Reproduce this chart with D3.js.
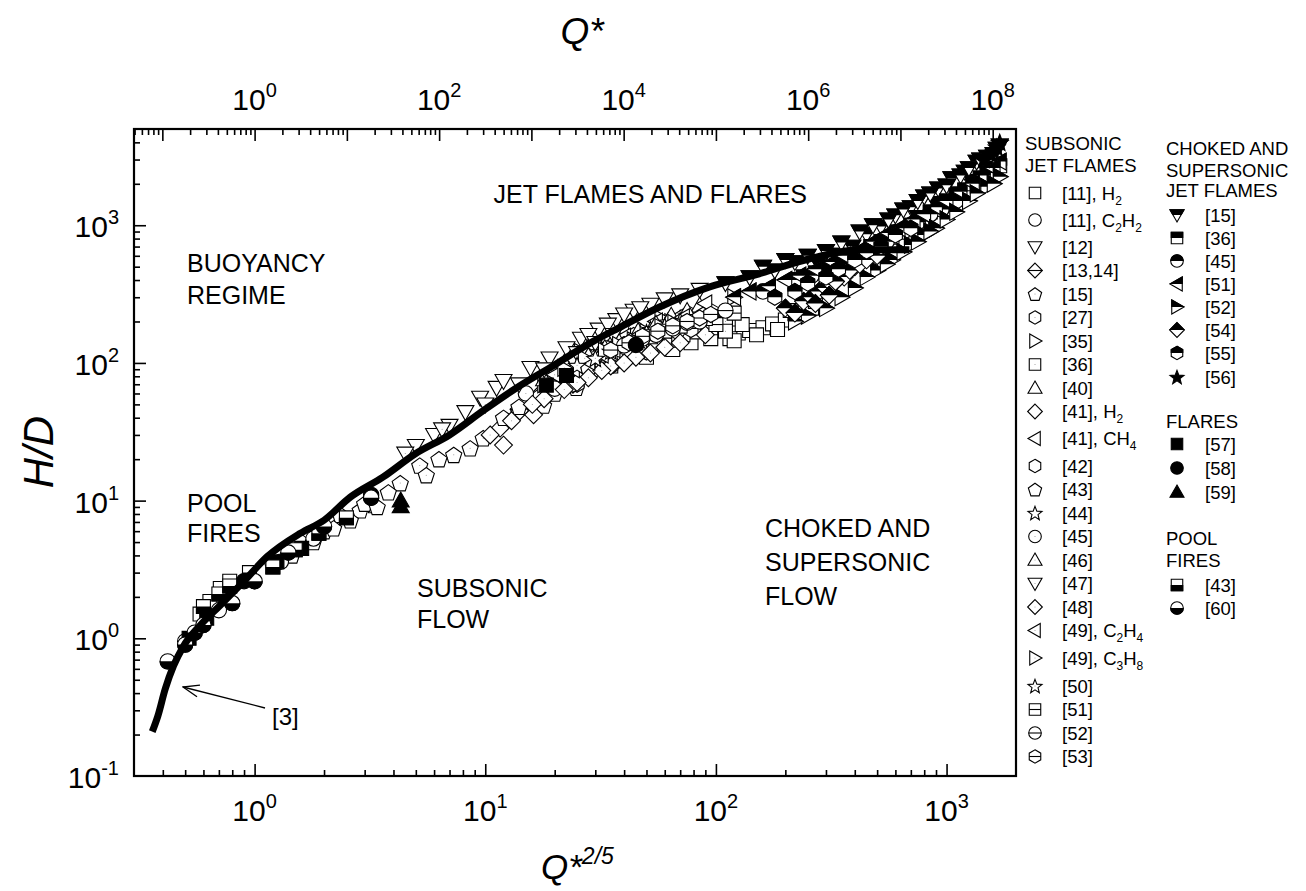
<!DOCTYPE html>
<html>
<head>
<meta charset="utf-8">
<script src="https://d3js.org/d3.v7.min.js"></script>
<style>
body { margin: 0; background: #fff; }
text { font-family: "Liberation Sans", Arial, Helvetica, sans-serif; fill: #000; }
</style>
</head>
<body>
<div id="container"></div>
<script>
// correlation curve [3]
var curveX = [0.36, 0.38, 0.41, 0.445, 0.49, 0.58, 0.71, 0.9, 1.13, 1.58, 2.0, 2.6, 3.6, 5.0, 7.0, 9.8, 13.7, 19, 29.5, 38, 57, 94, 154, 255, 420, 690];
var curveY = [0.21, 0.27, 0.43, 0.63, 0.87, 1.24, 1.74, 2.6, 3.9, 5.8, 7.2, 10.6, 14.8, 22, 30, 45, 66, 92, 144, 180, 255, 357, 444, 571, 664, 664];

// subsonic jet flames  [Q*^(2/5), H/D]
var s11H2 = [[45,120],[58,135],[70,150],[88,172],[104,172],[125,165],[140,172],[160,180],[176,192],[200,205],[220,228],[244,266],[290,298],[32,100],[95,150],[35,95],[50,110],[65,125],[78,140],[115,150],[130,190],[150,160],[185,175],[210,240],[260,250],[270,280],[120,145]];
var s11C2H2 = [[61,142],[83,192],[38,130],[50,160],[110,230],[28,110],[30,120],[45,175],[70,200]];
var s12 = [[5.0,25],[6.0,30],[7.0,35],[8.2,44],[9.5,56],[11.2,66],[12.0,74],[15.7,92],[19,108],[22.5,128],[26,150],[31,175],[37,205],[44,240],[52,265],[28,160],[34,190],[40,225],[47,250],[60,290],[70,310],[85,340]];
var s13 = [[14,46],[17,58],[21,72],[26,88],[31,102],[38,125],[46,150],[56,168],[24,100],[34,140],[42,110],[62,190]];
var s15 = [[2.35,7.9],[2.87,8.5],[3.28,9.3],[4.28,13.4],[5.2,18],[5.55,15.3],[7.3,21.5],[8.6,24],[9.8,28.4],[17.3,58],[17.9,49],[24.8,66]];
var s27 = [[20,78],[27,100],[34,128],[44,158],[58,190],[73,215],[90,205],[25,70],[38,105],[50,120],[65,160],[82,180],[110,200]];
var s35 = [[22,86],[29,110],[39,140],[50,168],[64,198],[80,228],[18,70],[26,120],[34,100],[45,130],[58,210],[95,250],[120,300]];
var s36 = [[0.58,1.5],[0.64,1.85],[0.71,2.3],[0.78,2.6],[24,82],[31,104],[40,122],[52,134],[65,146],[80,168],[28,90],[36,115],[46,128],[58,155],[72,160],[95,180],[110,170]];
var s40 = [[18,76],[24,96],[32,118],[42,150],[55,182],[70,210],[21,88],[28,130],[37,160],[48,130],[62,200],[85,260]];
var s41H2 = [[11.6,33.6],[12,25.3],[14.1,44.8],[16.2,42],[21.8,73.6],[26.7,81],[32,94],[40,108],[19,60],[24,70],[29,85],[36,98],[45,115]];
var s41CH4 = [[25,86],[35,114],[47,140],[60,168],[76,190],[22,100],[30,130],[40,155],[55,200],[68,215],[90,270]];
var s42 = [[30,112],[40,136],[51,160],[68,180],[88,222],[24,70],[35,95],[46,120],[60,140],[78,175]];
var s43 = [[1.2,3.4],[1.45,4.0],[1.6,5.0],[1.8,5.0],[2.0,6.0],[2.2,6.3],[2.6,7.2],[3.0,9.5],[3.4,9.0],[3.8,11.5],[6.3,20],[12,40],[14,48],[20,60]];
var s44 = [[20,86],[30,116],[45,152],[62,198],[24,105],[38,135],[52,175],[75,220]];
var s45 = [[0.5,0.95],[0.7,1.6],[1.3,3.6],[1.8,5.3],[15,60],[42,122],[20,65],[28,90],[55,140],[68,170]];
var s46 = [[28,112],[38,142],[55,192],[75,238],[22,100],[33,128],[46,170],[64,220]];
var s47 = [[4.5,22],[6.5,33],[10,50],[14,70],[18,90],[25,118],[30,140],[36,160]];
var s48 = [[10.5,30],[13,38],[18,55],[22,64],[28,78],[35,95],[45,110],[60,130],[16,50],[25,72],[32,88],[40,100],[52,118],[70,140],[90,160]];
var s49C2H4 = [[20,82],[28,102],[36,126],[48,160],[24,90],[32,115],[42,145],[56,170],[72,215]];
var s49C3H8 = [[22,92],[33,122],[44,146],[58,182],[27,108],[38,135],[50,160],[66,195]];
var s50 = [[25,96],[35,122],[50,166],[70,202],[30,108],[42,142],[60,185]];
var s51 = [[45,140],[60,170],[80,200],[100,190],[52,155],[70,185],[90,210],[120,230]];
var s52 = [[40,134],[55,160],[75,196],[48,150],[65,178],[85,200],[110,240]];
var s53 = [[35,124],[48,156],[65,186],[85,212],[42,140],[56,170],[75,200],[95,225]];

// choked and supersonic jet flames
var c15 = [[110,380],[140,420],[180,470],[220,540],[280,520],[330,610],[390,700],[450,860],[520,980],[600,1180],[700,1350],[800,1620],[920,1850],[1050,2200],[1200,2450],[1350,2900],[1500,3150],[1650,3600],[600,900],[750,1150],[900,1450],[1100,1700],[1300,2100],[1550,2600],[250,600],[300,650],[350,750],[420,900],[480,1000],[560,1100],[650,1300],[750,1500],[850,1700],[1000,1950],[1150,2300],[1250,2600],[1400,3000],[1600,3300],[1700,3800],[160,500],[200,560]];
var c36 = [[240,420],[300,480],[380,560],[470,700],[580,820],[700,1000],[850,1250],[1000,1500],[1200,1800],[1400,2200],[1600,2500],[270,450],[340,520],[420,620],[520,760],[640,900],[780,1100],[920,1350],[1100,1650],[1300,2000],[1500,2400],[1700,2700]];
var c45 = [[160,330],[220,400],[300,450],[400,600],[550,760],[750,1050],[950,1300],[260,430],[350,520],[460,680],[650,900],[850,1200],[1100,1500]];
var c51 = [[120,300],[170,360],[230,430],[320,540],[420,660],[560,880],[720,1100],[900,1350],[1150,1750],[1450,2300],[1700,2900],[140,330],[200,400],[270,480],[360,600],[480,760],[620,950],[800,1200],[1000,1500],[1300,2000],[1600,2600]];
var c52 = [[300,250],[350,300],[400,350],[500,470],[580,560],[650,640],[800,850],[900,950],[1000,1100],[1250,1500],[1500,1900],[1700,2250],[450,420],[550,520],[700,720],[750,760],[850,900],[1100,1250],[1350,1700],[1600,2000],[250,220],[220,200]];
var c54 = [[200,250],[240,280],[260,300],[280,330],[300,350],[320,370],[340,450],[360,420],[400,500],[220,230],[270,270],[310,310],[330,390],[380,470],[420,520],[450,560],[500,600]];
var c55 = [[180,300],[250,380],[340,480],[450,650],[600,850],[220,330],[300,420],[400,560],[520,700],[700,950]];
var c56 = [[1450,3000],[1550,3300],[1600,3450],[1650,3700],[1700,4000]];

// flares
var f57 = [[0.52,1.0],[0.62,1.4],[0.75,2.0],[1.25,3.6],[1.6,4.5],[18.4,69],[22.5,81]];
var f58 = [[0.9,2.6],[3.2,11],[45,135]];
var f59 = [[4.3,9.1],[4.3,10]];

// pool fires
var p43 = [[0.6,1.7],[0.7,2.1],[0.78,2.4],[0.95,3.0],[1.2,3.3],[1.5,4.4],[1.9,5.8],[2.5,7.5]];
var p60 = [[0.42,0.68],[0.5,0.9],[0.55,1.1],[0.6,1.25],[0.8,1.8],[1.0,2.6],[1.4,4.2],[2.0,6.5],[3.2,10.5]];

// axis label decades
var xLabelExp = [0, 1, 2, 3];
var yLabelExp = [-1, 0, 1, 2, 3];
var qLabelExp = [0, 2, 4, 6, 8];

var subsonicKeys = [
  {label:["[11], H","2"], data:s11H2, shape:"square", mode:"open"},
  {label:["[11], C","2","H","2"], data:s11C2H2, shape:"circle", mode:"open"},
  {label:["[12]"], data:s12, shape:"down", mode:"open"},
  {label:["[13,14]"], data:s13, shape:"diamond", mode:"line"},
  {label:["[15]"], data:s15, shape:"pentagon", mode:"dot"},
  {label:["[27]"], data:s27, shape:"hexagon", mode:"dot"},
  {label:["[35]"], data:s35, shape:"right", mode:"open"},
  {label:["[36]"], data:s36, shape:"square", mode:"dot"},
  {label:["[40]"], data:s40, shape:"up", mode:"open"},
  {label:["[41], H","2"], data:s41H2, shape:"diamond", mode:"open"},
  {label:["[41], CH","4"], data:s41CH4, shape:"left", mode:"open"},
  {label:["[42]"], data:s42, shape:"hexagon", mode:"open"},
  {label:["[43]"], data:s43, shape:"pentagon", mode:"open"},
  {label:["[44]"], data:s44, shape:"star", mode:"open"},
  {label:["[45]"], data:s45, shape:"circle", mode:"dot"},
  {label:["[46]"], data:s46, shape:"up", mode:"dot"},
  {label:["[47]"], data:s47, shape:"down", mode:"dot"},
  {label:["[48]"], data:s48, shape:"diamond", mode:"dot"},
  {label:["[49], C","2","H","4"], data:s49C2H4, shape:"left", mode:"dot"},
  {label:["[49], C","3","H","8"], data:s49C3H8, shape:"right", mode:"dot"},
  {label:["[50]"], data:s50, shape:"star", mode:"dot"},
  {label:["[51]"], data:s51, shape:"square", mode:"line"},
  {label:["[52]"], data:s52, shape:"circle", mode:"line"},
  {label:["[53]"], data:s53, shape:"hexagon", mode:"line"}
];
var chokedKeys = [
  {label:["[15]"], data:c15, shape:"down", mode:"top"},
  {label:["[36]"], data:c36, shape:"square", mode:"top"},
  {label:["[45]"], data:c45, shape:"circle", mode:"top"},
  {label:["[51]"], data:c51, shape:"left", mode:"top"},
  {label:["[52]"], data:c52, shape:"right", mode:"top"},
  {label:["[54]"], data:c54, shape:"diamond", mode:"top"},
  {label:["[55]"], data:c55, shape:"hexagon", mode:"top"},
  {label:["[56]"], data:c56, shape:"star", mode:"full"}
];
var flareKeys = [
  {label:["[57]"], data:f57, shape:"square", mode:"full"},
  {label:["[58]"], data:f58, shape:"circle", mode:"full"},
  {label:["[59]"], data:f59, shape:"up", mode:"full"}
];
var poolKeys = [
  {label:["[43]"], data:p43, shape:"square", mode:"bottom"},
  {label:["[60]"], data:p60, shape:"circle", mode:"bottom"}
];

var box = { left: 134, top: 129, right: 1016, bottom: 776 };

var svg = d3.select("#container").append("svg")
  .attr("width", 1306)
  .attr("height", 891);

var defs = svg.append("defs");
defs.append("clipPath").attr("id", "clip-top")
  .append("rect").attr("x", -30).attr("y", -30).attr("width", 60).attr("height", 30);
defs.append("clipPath").attr("id", "clip-bottom")
  .append("rect").attr("x", -30).attr("y", 0).attr("width", 60).attr("height", 30);
defs.append("clipPath").attr("id", "clip-plot")
  .append("rect").attr("x", box.left).attr("y", box.top)
  .attr("width", box.right - box.left).attr("height", box.bottom - box.top);
defs.append("marker").attr("id", "arrow")
  .attr("markerUnits", "userSpaceOnUse")
  .attr("markerWidth", 18).attr("markerHeight", 14)
  .attr("viewBox", "0 0 18 14").attr("refX", 1).attr("refY", 7)
  .attr("orient", "auto")
  .append("path").attr("d", "M17,1 L1,7 L17,13")
  .attr("fill", "none").attr("stroke", "#000").attr("stroke-width", 1.3);

// scales
var x = d3.scaleLog().domain([0.3, 2000]).range([box.left, box.right]);
var y = d3.scaleLog().domain([0.1, 5000]).range([box.bottom, box.top]);
// top axis: Q* = (Q*^(2/5))^(5/2)
var xq = d3.scaleLog().domain([Math.pow(0.3, 2.5), Math.pow(2000, 2.5)]).range([box.left, box.right]);

function ticksFor(scale, lo, hi) {
  var major = [], minor = [];
  var d = scale.domain();
  for (var k = lo; k <= hi; k++) {
    for (var m = 1; m <= 9; m++) {
      var v = m * Math.pow(10, k);
      if (v <= d[0] * 1.0001 || v >= d[1] * 0.9999) continue;
      if (m === 1) major.push(v); else minor.push(v);
    }
  }
  return { major: major, minor: minor };
}

function drawAxis(axisFn, scale, t, transform) {
  [[t.minor, 6], [t.major, 12]].forEach(function (p) {
    var g = svg.append("g")
      .attr("transform", transform)
      .call(axisFn(scale).tickValues(p[0]).tickSize(-p[1]).tickSizeOuter(0).tickFormat(""));
    g.select(".domain").remove();
    g.selectAll(".tick line").attr("stroke", "#000").attr("stroke-width", 1.6);
  });
}

drawAxis(d3.axisBottom, x, ticksFor(x, -1, 3), "translate(0," + box.bottom + ")");
drawAxis(d3.axisLeft, y, ticksFor(y, -1, 3), "translate(" + box.left + ",0)");
drawAxis(d3.axisTop, xq, ticksFor(xq, -2, 8), "translate(0," + box.top + ")");

// tick labels
function powText(sel, k) {
  sel.text("10");
  sel.append("tspan").attr("dy", -13).style("font-size", "20px").text(k);
}
xLabelExp.forEach(function (k) {
  svg.append("text").attr("x", x(Math.pow(10, k))).attr("y", 821)
    .attr("text-anchor", "middle").style("font-size", "30px")
    .call(powText, k);
});
yLabelExp.forEach(function (k) {
  svg.append("text").attr("x", 119).attr("y", y(Math.pow(10, k)) + 12)
    .attr("text-anchor", "end").style("font-size", "30px")
    .call(powText, k);
});
qLabelExp.forEach(function (k) {
  svg.append("text").attr("x", xq(Math.pow(10, k))).attr("y", 110)
    .attr("text-anchor", "middle").style("font-size", "30px")
    .call(powText, k);
});

// axis titles
svg.append("text").attr("x", 582).attr("y", 44).attr("text-anchor", "middle")
  .style("font-size", "37px").style("font-style", "italic").text("Q*");
var bt = svg.append("text").attr("x", 541).attr("y", 879)
  .style("font-size", "35px").style("font-style", "italic").text("Q*");
bt.append("tspan").attr("dy", -15).style("font-size", "23px").text("2/5");
svg.append("text").attr("transform", "translate(53,452) rotate(-90)")
  .attr("text-anchor", "middle").style("font-size", "42px").style("font-style", "italic")
  .text("H/D");

// symbols
function symbolPath(shape, r) {
  var pts, i, a;
  switch (shape) {
    case "square":
      a = r * 0.82;
      return "M" + (-a) + "," + (-a) + "H" + a + "V" + a + "H" + (-a) + "Z";
    case "circle":
      a = r * 0.9;
      return "M" + a + ",0A" + a + "," + a + " 0 1,1 " + (-a) + ",0A" + a + "," + a + " 0 1,1 " + a + ",0Z";
    case "up": pts = [[0, -r], [r, 0.75 * r], [-r, 0.75 * r]]; break;
    case "down": pts = [[0, r], [r, -0.75 * r], [-r, -0.75 * r]]; break;
    case "left": pts = [[-r, 0], [0.75 * r, -r], [0.75 * r, r]]; break;
    case "right": pts = [[r, 0], [-0.75 * r, -r], [-0.75 * r, r]]; break;
    case "diamond": pts = [[0, -r * 1.05], [r * 1.05, 0], [0, r * 1.05], [-r * 1.05, 0]]; break;
    case "pentagon":
      pts = [];
      for (i = 0; i < 5; i++) {
        a = (-90 + 72 * i) * Math.PI / 180;
        pts.push([r * Math.cos(a), r * Math.sin(a) + r * 0.1]);
      }
      break;
    case "hexagon":
      pts = [];
      for (i = 0; i < 6; i++) {
        a = (-90 + 60 * i) * Math.PI / 180;
        pts.push([r * 0.95 * Math.cos(a), r * 0.95 * Math.sin(a)]);
      }
      break;
    case "star":
      pts = [];
      for (i = 0; i < 10; i++) {
        a = (-90 + 36 * i) * Math.PI / 180;
        var rr = i % 2 ? r * 0.45 : r * 1.05;
        pts.push([rr * Math.cos(a), rr * Math.sin(a) + r * 0.1]);
      }
      break;
  }
  return "M" + pts.map(function (p) { return p[0].toFixed(2) + "," + p[1].toFixed(2); }).join("L") + "Z";
}
var halfWidth = { square: 0.82, circle: 0.9, diamond: 1.05, hexagon: 0.82 };

function drawMark(g, shape, mode, r) {
  var d = symbolPath(shape, r);
  g.append("path").attr("d", d)
    .attr("fill", mode === "full" ? "#000" : "#fff")
    .attr("stroke", "#000").attr("stroke-width", 1.1);
  if (mode === "top" || mode === "bottom") {
    g.append("path").attr("d", d).attr("fill", "#000")
      .attr("stroke", "#000").attr("stroke-width", 1.1)
      .attr("clip-path", "url(#clip-" + mode + ")");
  }
  if (mode === "line") {
    var w = halfWidth[shape] * r;
    g.append("line").attr("x1", -w).attr("x2", w).attr("y1", 0).attr("y2", 0)
      .attr("stroke", "#000").attr("stroke-width", 1.1);
  }
  if (mode === "dot") {
    g.append("circle").attr("r", 0.5).attr("fill", "#888");
  }
}

var plot = svg.append("g").attr("clip-path", "url(#clip-plot)");
var groups = [subsonicKeys, chokedKeys, flareKeys, poolKeys];
groups.forEach(function (keys) {
  keys.forEach(function (k) {
    plot.append("g").selectAll("g")
      .data(k.data)
      .enter().append("g")
      .attr("transform", function (d) { return "translate(" + x(d[0]) + "," + y(d[1]) + ")"; })
      .each(function () { drawMark(d3.select(this), k.shape, k.mode, 8.5); });
  });
});

// correlation line [3]
var curve = curveX.map(function (v, i) { return [v, curveY[i]]; });
plot.append("path")
  .datum(curve)
  .attr("d", d3.line().x(function (d) { return x(d[0]); }).y(function (d) { return y(d[1]); })
    .curve(d3.curveMonotoneX))
  .attr("fill", "none").attr("stroke", "#000").attr("stroke-width", 7)
  .attr("stroke-linejoin", "round");

// frame
svg.append("rect")
  .attr("x", box.left).attr("y", box.top)
  .attr("width", box.right - box.left).attr("height", box.bottom - box.top)
  .attr("fill", "none").attr("stroke", "#000").attr("stroke-width", 2.2);

// region annotations
function note(tx, ty, s, size) {
  return svg.append("text").attr("x", tx).attr("y", ty).style("font-size", (size || 25) + "px").text(s);
}
note(807, 203, "JET FLAMES AND FLARES").attr("text-anchor", "end");
note(187, 272, "BUOYANCY");
note(187, 304, "REGIME");
note(187, 512, "POOL");
note(187, 542, "FIRES");
note(417, 597, "SUBSONIC");
note(417, 628, "FLOW");
note(765, 537, "CHOKED AND");
note(765, 571, "SUPERSONIC");
note(765, 605, "FLOW");
note(272, 725, "[3]", 24);
svg.append("line").attr("x1", 183).attr("y1", 687).attr("x2", 265).attr("y2", 708)
  .attr("stroke", "#000").attr("stroke-width", 1.3)
  .attr("marker-start", "url(#arrow)");

// legend
function legendText(tx, ty, parts) {
  var t = svg.append("text").attr("x", tx).attr("y", ty).style("font-size", "18.5px");
  parts.forEach(function (p, i) {
    if (i % 2 === 1) t.append("tspan").attr("dy", 5).style("font-size", "12px").text(p);
    else t.append("tspan").attr("dy", i === 0 ? 0 : -5).text(p);
  });
}
function legendItems(keys, cy, symX, txtX) {
  keys.forEach(function (k, i) {
    var g = svg.append("g").attr("transform", "translate(" + symX + "," + cy[i] + ")");
    drawMark(g, k.shape, k.mode, 7);
    legendText(txtX, cy[i] + 6.5, k.label);
  });
}
legendText(1025, 150, ["SUBSONIC"]);
legendText(1025, 172, ["JET FLAMES"]);
legendItems(subsonicKeys,
  [193, 220, 247, 270.5, 294, 317.5, 341, 364.5, 388, 411.5, 438.5, 466, 489.5, 513, 536.5, 560, 583.5, 607, 630.5, 658, 686, 709.5, 733, 756.5],
  1035, 1062);

legendText(1166, 155, ["CHOKED AND"]);
legendText(1166, 177, ["SUPERSONIC"]);
legendText(1166, 197, ["JET FLAMES"]);
legendItems(chokedKeys, [215, 238, 261, 284, 307, 330, 353, 377], 1177, 1205);
legendText(1166, 428, ["FLARES"]);
legendItems(flareKeys, [444, 468, 492], 1177, 1205);
legendText(1166, 545, ["POOL"]);
legendText(1166, 567, ["FIRES"]);
legendItems(poolKeys, [585, 608], 1177, 1205);
</script>
</body>
</html>
